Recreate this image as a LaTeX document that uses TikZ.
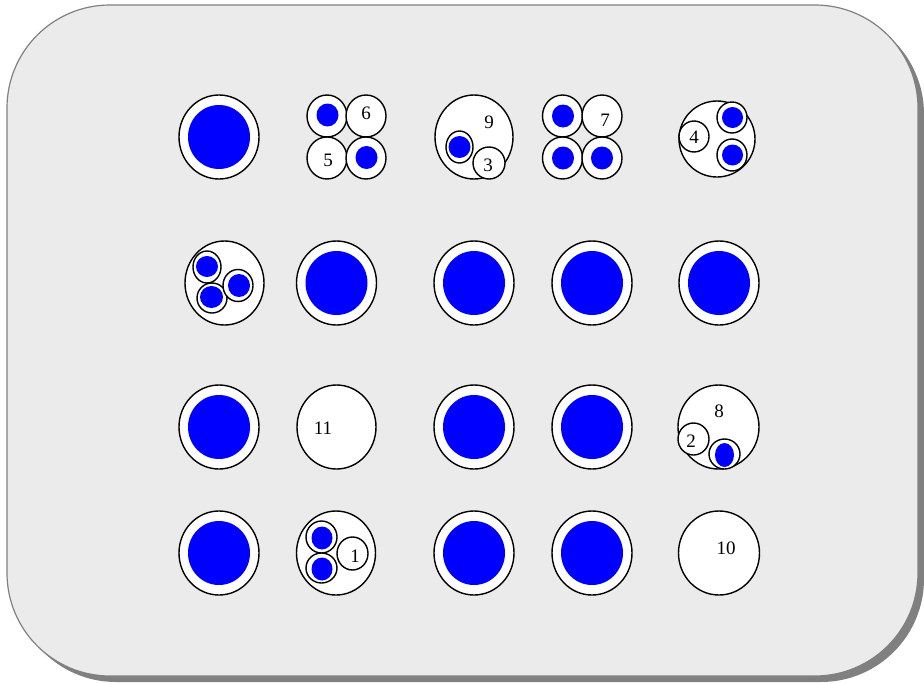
\documentclass[tikz,border=0pt]{standalone}
\usepackage{fontspec}
\setmainfont{Liberation Serif}
\begin{document}
\begin{tikzpicture}[x=1pt,y=-1pt,
  ring/.style={draw=black, line width=1.4pt, fill=white},
  dot/.style={fill=blue},
  lbl/.style={inner sep=0pt, font=\fontsize{19}{21}\selectfont}]
\useasboundingbox (0,0) rectangle (924,683);
% background panel with shadow
\fill[black!50, rounded corners=103pt] (13,11) rectangle (924,682);
\draw[draw=black!50, line width=1.2pt, fill=black!8, rounded corners=103pt] (7,5) rectangle (918,676);
% full blue circles
\foreach \cx/\cy in {219/137, 336.5/283, 474/283, 592/283, 719/283,
                     219/427, 474/427, 592/427,
                     219/553, 474/553, 592/553}{
  \draw[ring] (\cx,\cy) ellipse [x radius=40pt, y radius=42pt];
  \fill[dot] (\cx,\cy) ellipse [x radius=31pt, y radius=32pt];
}
% --- row 1 ---
% cluster of four (left)
\draw[ring] (327,116) ellipse [x radius=20pt, y radius=21pt];
\draw[ring] (366,116) ellipse [x radius=20pt, y radius=21pt];
\draw[ring] (327,158) ellipse [x radius=20pt, y radius=21pt];
\draw[ring] (366,158) ellipse [x radius=20pt, y radius=21pt];
\fill[dot] (327.5,115) ellipse [x radius=11pt, y radius=11.5pt];
\fill[dot] (366.5,157.5) ellipse [x radius=11pt, y radius=11.5pt];
\node[lbl] (n6) at (366,113) {6};
\node[lbl] (n5) at (328,160) {5};
% circle 9
\draw[ring] (474,137) ellipse [x radius=39pt, y radius=42pt];
\draw[ring] (459.5,147) ellipse [x radius=13.5pt, y radius=16pt];
\fill[dot] (459.5,147) ellipse [x radius=11pt, y radius=11pt];
\draw[ring] (489,163) ellipse [x radius=16pt, y radius=16pt];
\node[lbl] (n9) at (489,122) {9};
\node[lbl] (n3) at (488,165) {3};
% cluster of four (right)
\draw[ring] (562.5,116) ellipse [x radius=20pt, y radius=21pt];
\draw[ring] (602,116) ellipse [x radius=20pt, y radius=21pt];
\draw[ring] (562.5,158) ellipse [x radius=20pt, y radius=21pt];
\draw[ring] (602,158) ellipse [x radius=20pt, y radius=21pt];
\fill[dot] (563,116) ellipse [x radius=11pt, y radius=11.5pt];
\fill[dot] (563,158) ellipse [x radius=11pt, y radius=11.5pt];
\fill[dot] (602,158) ellipse [x radius=11pt, y radius=11.5pt];
\node[lbl] (n7) at (605,120) {7};
% circle with 4
\draw[ring] (717,139) ellipse [x radius=38pt, y radius=38pt];
\draw[ring] (694,136.5) ellipse [x radius=15pt, y radius=15.5pt];
\draw[ring] (732,117.5) ellipse [x radius=15pt, y radius=15.5pt];
\fill[dot] (732.5,117.5) ellipse [x radius=10.5pt, y radius=10.5pt];
\draw[ring] (732,155) ellipse [x radius=15pt, y radius=16pt];
\fill[dot] (732.5,155) ellipse [x radius=10.5pt, y radius=10.5pt];
\node[lbl] (n4) at (694,137) {4};
% --- row 2 ---
\draw[ring] (224.5,283) ellipse [x radius=39.5pt, y radius=42pt];
\draw[ring] (207,267) ellipse [x radius=14pt, y radius=16pt];
\fill[dot] (207,266.5) ellipse [x radius=11pt, y radius=10.5pt];
\draw[ring] (212,298) ellipse [x radius=15pt, y radius=15pt];
\fill[dot] (211.5,297) ellipse [x radius=11.5pt, y radius=11pt];
\draw[ring] (238,285.5) ellipse [x radius=15pt, y radius=16pt];
\fill[dot] (239,285.5) ellipse [x radius=11pt, y radius=11.5pt];
% --- row 3 ---
\draw[ring] (336.5,427) ellipse [x radius=39.5pt, y radius=42pt];
\node[lbl] (n11) at (323,428) {11};
\draw[ring] (718.5,427) ellipse [x radius=40.5pt, y radius=42pt];
\draw[ring] (693.5,439) ellipse [x radius=15.5pt, y radius=16pt];
\draw[ring] (724.5,454) ellipse [x radius=15.5pt, y radius=15pt];
\fill[dot] (724.5,455) ellipse [x radius=9.5pt, y radius=12pt];
\node[lbl] (n8) at (719,411) {8};
\node[lbl] (n2) at (691,441) {2};
% --- row 4 ---
\draw[ring] (336,553) ellipse [x radius=39.5pt, y radius=42pt];
\draw[ring] (321.5,537) ellipse [x radius=15.5pt, y radius=16pt];
\fill[dot] (322,538) ellipse [x radius=10.5pt, y radius=11.5pt];
\draw[ring] (321.5,568) ellipse [x radius=15.5pt, y radius=15pt];
\fill[dot] (322,569) ellipse [x radius=10.5pt, y radius=11.5pt];
\draw[ring] (352.5,553.5) ellipse [x radius=15.5pt, y radius=16.5pt];
\node[lbl] (n1) at (355,556) {1};
\draw[ring] (719,553) ellipse [x radius=40.5pt, y radius=42pt];
\node[lbl] (n10) at (726,548) {10};
\end{tikzpicture}
\end{document}
